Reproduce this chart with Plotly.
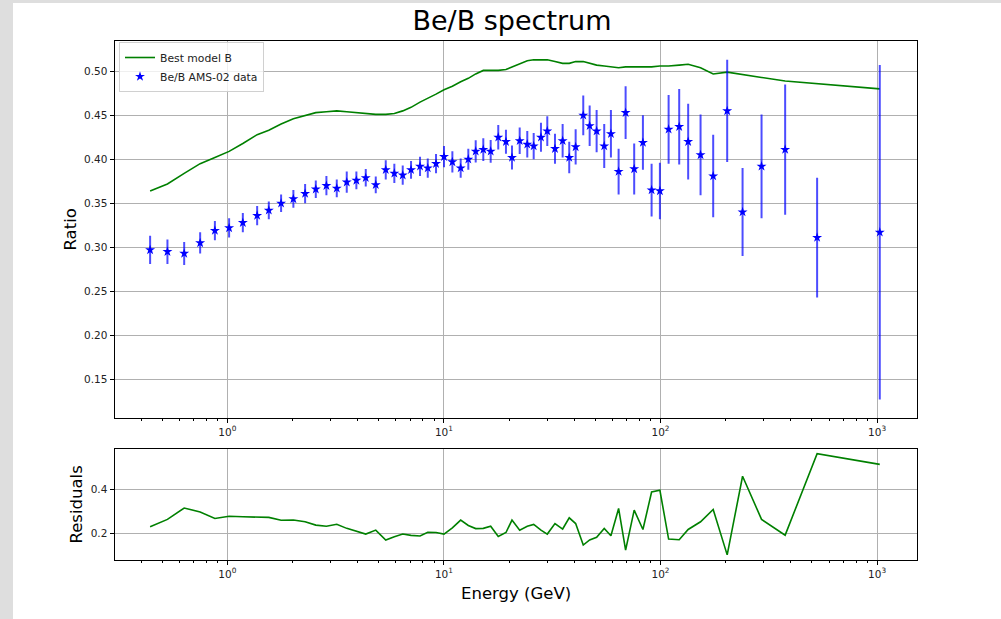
import plotly.graph_objects as go

# ---- data -------------------------------------------------------------
energy = [0.440, 0.529, 0.632, 0.749, 0.876, 1.019, 1.179, 1.373, 1.554, 1.771,
          2.018, 2.286, 2.561, 2.867, 3.201, 3.559, 3.943, 4.356, 4.845, 5.388,
          5.903, 6.454, 7.050, 7.757, 8.421, 9.194, 10.01, 10.94, 11.95, 12.96,
          14.02, 15.20, 16.44, 17.82, 19.34, 20.62, 22.38, 24.26, 25.97, 28.06,
          30.01, 32.57, 35.33, 37.90, 40.57, 43.99, 47.09, 50.71, 54.98, 59.03,
          64.06, 69.01, 75.60, 82.95, 90.97, 99.36, 109.0, 122.0, 134.2, 153.1,
          175.1, 203.2, 239.3, 292.8, 376.3, 528.6, 1029.0]

ratio = [0.297, 0.295, 0.293, 0.305, 0.319, 0.322, 0.328, 0.336, 0.342, 0.350,
         0.355, 0.361, 0.366, 0.370, 0.367, 0.374, 0.376, 0.379, 0.371, 0.388,
         0.384, 0.382, 0.388, 0.392, 0.390, 0.395, 0.403, 0.397, 0.390, 0.400,
         0.409, 0.411, 0.409, 0.425, 0.420, 0.402, 0.421, 0.417, 0.415, 0.425,
         0.432, 0.412, 0.421, 0.402, 0.414, 0.450, 0.438, 0.432, 0.415, 0.429,
         0.386, 0.453, 0.389, 0.419, 0.365, 0.364, 0.434, 0.437, 0.420, 0.405,
         0.381, 0.455, 0.340, 0.392, 0.411, 0.311, 0.317]

ratio_err = [0.016, 0.014, 0.013, 0.012, 0.011, 0.011, 0.011, 0.011, 0.010, 0.010,
             0.010, 0.011, 0.010, 0.011, 0.010, 0.012, 0.010, 0.010, 0.0095, 0.011,
             0.011, 0.011, 0.010, 0.011, 0.011, 0.011, 0.012, 0.012, 0.011, 0.012,
             0.0126, 0.013, 0.013, 0.014, 0.0136, 0.0136, 0.015, 0.015, 0.015, 0.0165,
             0.017, 0.017, 0.019, 0.018, 0.020, 0.0226, 0.023, 0.024, 0.025, 0.027,
             0.026, 0.030, 0.029, 0.031, 0.030, 0.032, 0.039, 0.043, 0.043, 0.046,
             0.047, 0.058, 0.050, 0.059, 0.074, 0.068, 0.190]

model_b = [0.364, 0.372, 0.384, 0.395, 0.402, 0.409, 0.418, 0.428, 0.433, 0.440,
           0.446, 0.450, 0.453, 0.454, 0.455, 0.454, 0.453, 0.452, 0.451, 0.451,
           0.452, 0.455, 0.459, 0.465, 0.469, 0.474, 0.479, 0.483, 0.488, 0.492,
           0.497, 0.501, 0.501, 0.501, 0.502, 0.505, 0.509, 0.512, 0.513, 0.513,
           0.513, 0.511, 0.509, 0.509, 0.511, 0.511, 0.509, 0.507, 0.506, 0.505,
           0.504, 0.505, 0.505, 0.505, 0.505, 0.506, 0.506, 0.507, 0.508, 0.504,
           0.497, 0.499, 0.496, 0.493, 0.489, 0.486, 0.480]

residuals = [0.230, 0.264, 0.316, 0.298, 0.268, 0.278, 0.276, 0.274, 0.273, 0.260,
             0.261, 0.253, 0.238, 0.233, 0.242, 0.223, 0.210, 0.197, 0.215, 0.170,
             0.185, 0.197, 0.191, 0.188, 0.205, 0.204, 0.197, 0.225, 0.261, 0.236,
             0.222, 0.223, 0.233, 0.186, 0.204, 0.261, 0.215, 0.233, 0.241, 0.215,
             0.197, 0.245, 0.220, 0.271, 0.245, 0.147, 0.170, 0.182, 0.223, 0.189,
             0.314, 0.124, 0.306, 0.218, 0.389, 0.397, 0.174, 0.171, 0.218, 0.253,
             0.309, 0.102, 0.461, 0.264, 0.192, 0.564, 0.515]

ratio_ticks = [0.15, 0.20, 0.25, 0.30, 0.35, 0.40, 0.45, 0.50]
resid_ticks = [0.2, 0.4]
decade_ticks = [1, 10, 100, 1000]
decade_labels = ["10<sup>0</sup>", "10<sup>1</sup>", "10<sup>2</sup>", "10<sup>3</sup>"]

# ---- layout geometry (pixels of a 1001 x 619 canvas) ------------------
W, H = 1001, 619
def px(x):
    return x / W
def py(y):
    return 1 - y / H

FONT = "DejaVu Sans"
GRID = "#b0b0b0"
minor_vals = [k * 10 ** n for n in range(-1, 4) for k in range(2, 10)]

fig = go.Figure()

fig.add_trace(go.Scatter(
    x=energy, y=model_b, mode="lines", name="Best model B",
    line=dict(color="green", width=1.6),
    xaxis="x", yaxis="y",
))
fig.add_trace(go.Scatter(
    x=energy, y=ratio, mode="markers", name="Be/B AMS-02 data",
    marker=dict(symbol="star", size=7.5, color="blue", line=dict(width=0)),
    error_y=dict(type="data", array=ratio_err, visible=True,
                 color="rgba(0,0,255,0.7)", thickness=2, width=0),
    xaxis="x", yaxis="y",
))
fig.add_trace(go.Scatter(
    x=energy, y=residuals, mode="lines", showlegend=False,
    line=dict(color="green", width=1.6),
    xaxis="x2", yaxis="y2",
))

def xaxis_style(anchor):
    return dict(
        type="log", range=[-0.521, 3.182], domain=[px(114.5), px(916.5)],
        anchor=anchor,
        tickvals=decade_ticks, ticktext=decade_labels,
        ticks="outside", ticklen=4, tickcolor="black",
        showline=True, linecolor="black", linewidth=1, mirror=True,
        showgrid=True, gridcolor=GRID, gridwidth=0.8, zeroline=False,
        tickfont=dict(family=FONT, size=10.5, color="#222"),
        minor=dict(tickvals=minor_vals, ticks="outside", ticklen=2,
                   tickcolor="black", showgrid=False),
    )

def label(text, x, y, angle=0):
    return dict(text=text, x=px(x), y=py(y), xref="paper", yref="paper",
                xanchor="center", yanchor="middle", textangle=angle,
                showarrow=False, font=dict(family=FONT, size=16.5, color="black"))

fig.update_layout(
    width=W, height=H,
    margin=dict(l=0, r=0, t=0, b=0),
    paper_bgcolor="white", plot_bgcolor="white",
    font=dict(family=FONT, color="#222"),
    showlegend=True,
    legend=dict(
        x=px(119), y=py(42), xanchor="left", yanchor="top",
        bgcolor="rgba(255,255,255,0.8)", bordercolor="#d0d0d0", borderwidth=1,
        font=dict(family=FONT, size=10.8, color="#222"),
        itemwidth=30, tracegroupgap=0,
    ),
    xaxis=xaxis_style("y"),
    yaxis=dict(
        domain=[py(418.3), py(41)], range=[0.1057, 0.5344], anchor="x",
        tickvals=ratio_ticks, tickformat=".2f",
        ticks="outside", ticklen=4, tickcolor="black",
        showline=True, linecolor="black", linewidth=1, mirror=True,
        showgrid=True, gridcolor=GRID, gridwidth=0.8, zeroline=False,
        tickfont=dict(family=FONT, size=10.5, color="#222"),
    ),
    xaxis2=xaxis_style("y2"),
    yaxis2=dict(
        domain=[py(560), py(449.3)], range=[0.0786, 0.584], anchor="x2",
        tickvals=resid_ticks, tickformat=".1f",
        ticks="outside", ticklen=4, tickcolor="black",
        showline=True, linecolor="black", linewidth=1, mirror=True,
        showgrid=True, gridcolor=GRID, gridwidth=0.8, zeroline=False,
        tickfont=dict(family=FONT, size=10.5, color="#222"),
    ),
    title=dict(text="Be/B spectrum", x=px(512), y=py(21), xanchor="center",
               yanchor="middle", font=dict(family=FONT, size=27, color="black")),
    annotations=[
        label("Ratio", 70, 229.5, -90),
        label("Residuals", 76, 504.5, -90),
        label("Energy (GeV)", 515.5, 593),
    ],
    shapes=[
        dict(type="rect", xref="paper", yref="paper", x0=0, x1=px(13), y0=0, y1=1,
             fillcolor="#dedede", line=dict(width=0), layer="below"),
        dict(type="rect", xref="paper", yref="paper", x0=0, x1=1, y0=py(3), y1=1,
             fillcolor="#dedede", line=dict(width=0), layer="below"),
    ],
)

fig.write_html("out.html")
